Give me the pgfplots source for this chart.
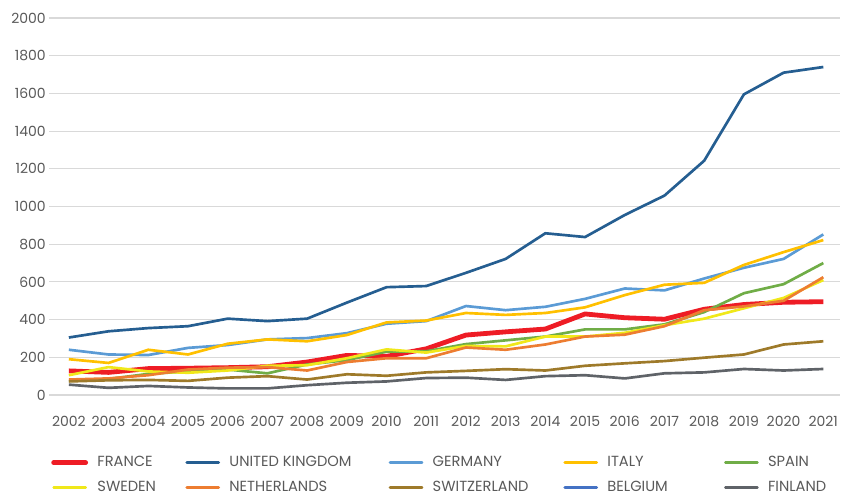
\documentclass[border=0pt]{standalone}
\usepackage{pgfplots}
\pgfplotsset{compat=1.18}
\usepackage{fontspec}
\setmainfont{Poppins}
\definecolor{cFR}{HTML}{EE1C25}
\definecolor{cUK}{HTML}{255E91}
\definecolor{cDE}{HTML}{5B9BD5}
\definecolor{cIT}{HTML}{FFC000}
\definecolor{cES}{HTML}{70AD47}
\definecolor{cSE}{HTML}{F0E81A}
\definecolor{cNL}{HTML}{ED7D31}
\definecolor{cCH}{HTML}{9E7A2A}
\definecolor{cBE}{HTML}{4472C4}
\definecolor{cFI}{HTML}{5F6368}
\definecolor{txt}{HTML}{595959}
\definecolor{grd}{HTML}{D9D9D9}
\begin{document}
\begin{tikzpicture}
\useasboundingbox (-36.75pt,-76.5pt) rectangle (594.75pt,296.25pt);
\begin{axis}[
  scale only axis,
  width=593.25pt, height=282.75pt,
  xmin=2001.5, xmax=2021.42,
  ymin=0, ymax=2000,
  xtick={2002,...,2021},
  ytick={0,200,...,2000},
  /pgf/number format/assume math mode=true,
  /pgf/number format/1000 sep={},
  axis line style={draw=none},
  major tick length=0pt,
  ymajorgrids, grid style={grd, line width=0.8pt},
  tick label style={font=\fontsize{10.5}{12}\selectfont, text=txt},
  xticklabel style={inner sep=0pt, anchor=north, yshift=-15.75pt},
  yticklabel style={inner sep=0pt, anchor=east, xshift=-2.25pt},
  every axis plot/.append style={line width=2pt, line join=round, mark=none},
  legend columns=5,
  legend style={at={(axis description cs:0,0)}, anchor=north west,
    xshift=1.5pt, yshift=-46pt, draw=none, fill=none, inner sep=0pt,
    font=\fontsize{11}{13}\selectfont, text=txt,
    nodes={inner sep=0pt},
    /tikz/every odd column/.append style={column sep=7pt},
    row sep=9.5pt},
  legend cell align=left,
  legend image code/.code={\draw[#1, line cap=round] (0pt,0pt) -- (24pt,0pt);},
]
\addplot[cFR, line width=3.6pt] coordinates {(2002,128)(2003,120)(2004,140)(2005,142)(2006,145)(2007,150)(2008,175)(2009,210)(2010,205)(2011,245)(2012,318)(2013,335)(2014,350)(2015,430)(2016,410)(2017,402)(2018,455)(2019,480)(2020,492)(2021,495)};
\addlegendentry{\makebox[66pt][l]{FRANCE}}
\addplot[cUK] coordinates {(2002,305)(2003,338)(2004,355)(2005,365)(2006,405)(2007,392)(2008,405)(2009,490)(2010,572)(2011,578)(2012,648)(2013,722)(2014,858)(2015,838)(2016,955)(2017,1058)(2018,1243)(2019,1595)(2020,1710)(2021,1740)};
\addlegendentry{\makebox[119.5pt][l]{UNITED KINGDOM}}
\addplot[cDE] coordinates {(2002,240)(2003,215)(2004,212)(2005,250)(2006,265)(2007,295)(2008,302)(2009,328)(2010,378)(2011,392)(2012,472)(2013,450)(2014,468)(2015,510)(2016,565)(2017,555)(2018,618)(2019,675)(2020,722)(2021,852)};
\addlegendentry{\makebox[98pt][l]{GERMANY}}
\addplot[cIT] coordinates {(2002,190)(2003,170)(2004,240)(2005,215)(2006,272)(2007,295)(2008,285)(2009,318)(2010,385)(2011,395)(2012,435)(2013,425)(2014,435)(2015,465)(2016,530)(2017,585)(2018,595)(2019,690)(2020,758)(2021,822)};
\addlegendentry{\makebox[87.5pt][l]{ITALY}}
\addplot[cES] coordinates {(2002,75)(2003,85)(2004,112)(2005,125)(2006,135)(2007,115)(2008,162)(2009,185)(2010,230)(2011,232)(2012,270)(2013,290)(2014,310)(2015,348)(2016,348)(2017,375)(2018,440)(2019,540)(2020,588)(2021,700)};
\addlegendentry{SPAIN}
\addplot[cSE] coordinates {(2002,105)(2003,148)(2004,125)(2005,118)(2006,130)(2007,155)(2008,158)(2009,195)(2010,242)(2011,225)(2012,260)(2013,258)(2014,310)(2015,310)(2016,330)(2017,370)(2018,405)(2019,460)(2020,515)(2021,610)};
\addlegendentry{SWEDEN}
\addplot[cNL] coordinates {(2002,82)(2003,88)(2004,105)(2005,135)(2006,145)(2007,148)(2008,130)(2009,175)(2010,195)(2011,195)(2012,252)(2013,240)(2014,268)(2015,310)(2016,320)(2017,365)(2018,450)(2019,470)(2020,500)(2021,625)};
\addlegendentry{NETHERLANDS}
\addplot[cCH] coordinates {(2002,72)(2003,78)(2004,80)(2005,75)(2006,92)(2007,100)(2008,82)(2009,110)(2010,102)(2011,120)(2012,128)(2013,137)(2014,130)(2015,155)(2016,168)(2017,180)(2018,198)(2019,215)(2020,268)(2021,285)};
\addlegendentry{SWITZERLAND}
\addlegendimage{cBE, line width=2pt}
\addlegendentry{BELGIUM}
\addplot[cFI] coordinates {(2002,55)(2003,38)(2004,48)(2005,40)(2006,35)(2007,35)(2008,52)(2009,65)(2010,72)(2011,90)(2012,92)(2013,80)(2014,100)(2015,105)(2016,88)(2017,115)(2018,120)(2019,138)(2020,130)(2021,138)};
\addlegendentry{FINLAND}
\end{axis}
\end{tikzpicture}
\end{document}
